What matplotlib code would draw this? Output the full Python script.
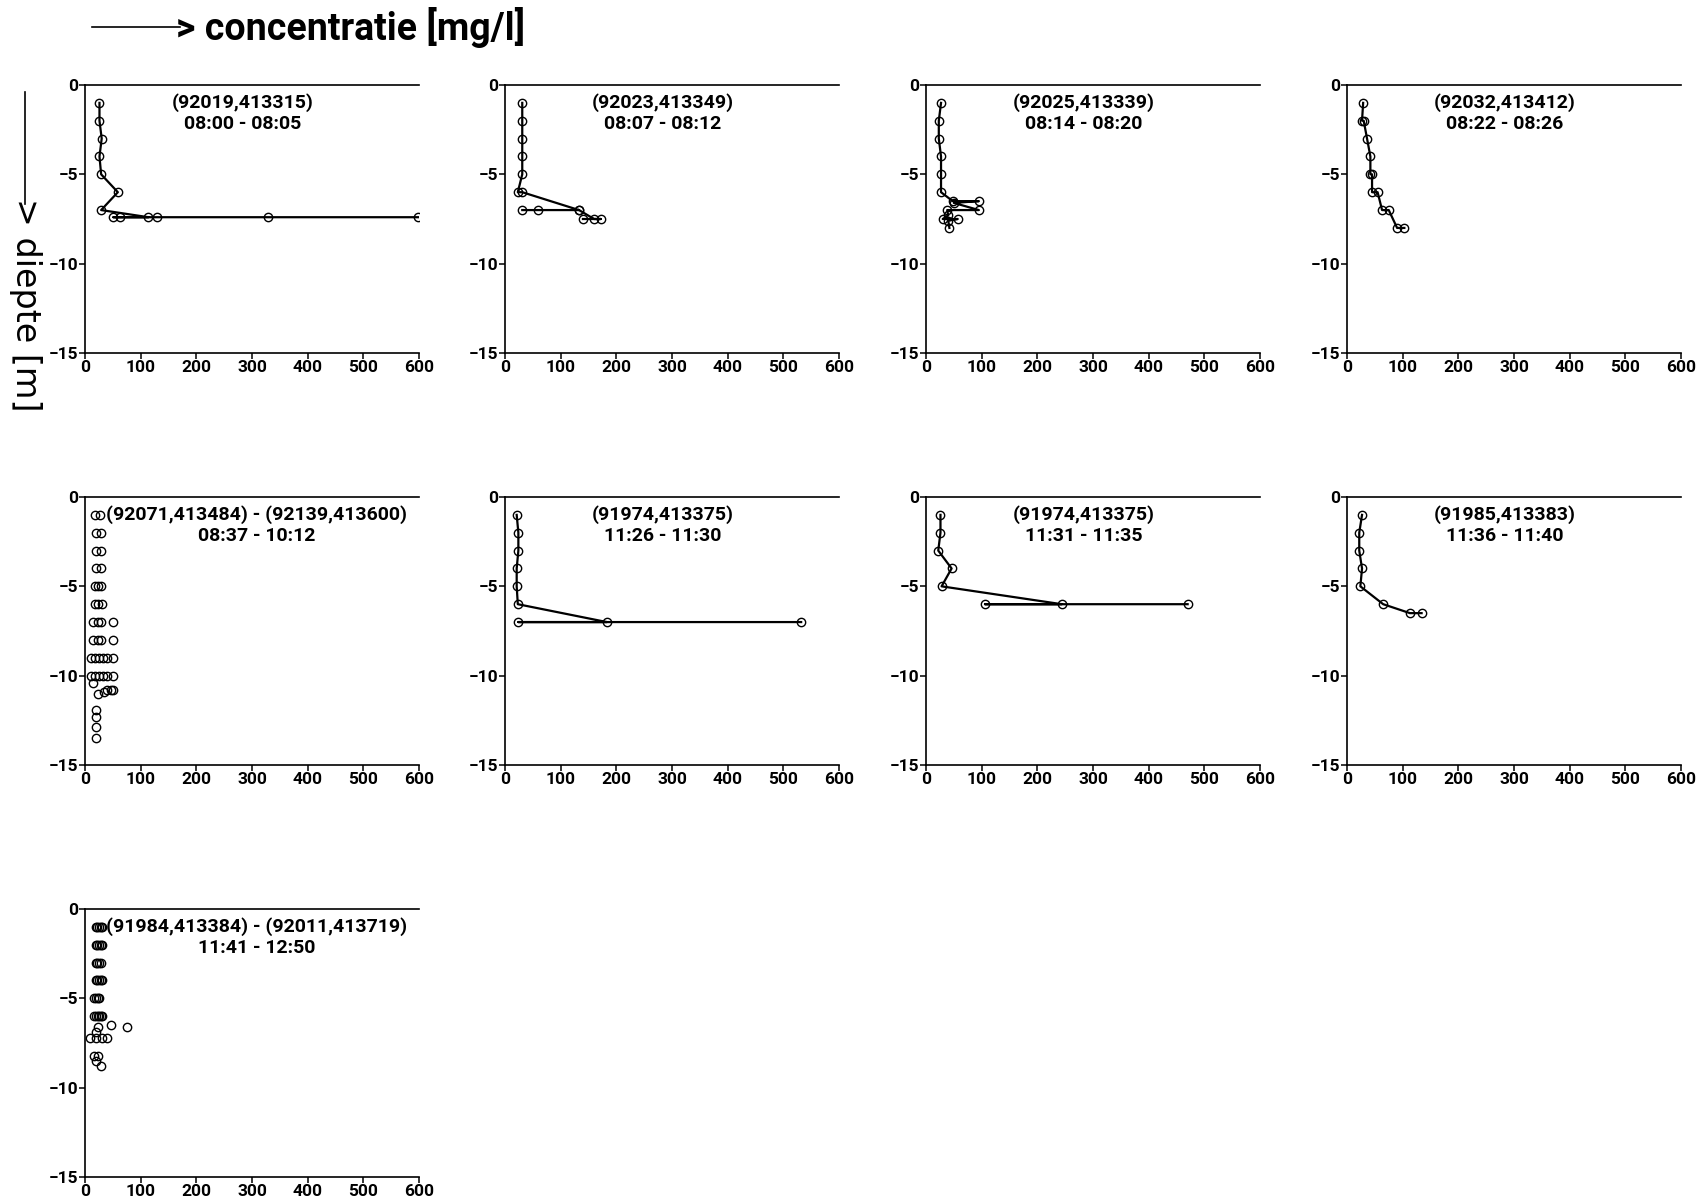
import numpy as np
import matplotlib
matplotlib.use("Agg")
import matplotlib.pyplot as plt
from matplotlib.lines import Line2D

plt.rcParams['font.family'] = ['Roboto', 'DejaVu Sans']

nan = np.nan

# meetlocaties en tijden per profiel
labels = [
    ("(92019,413315)", "08:00 - 08:05"),
    ("(92023,413349)", "08:07 - 08:12"),
    ("(92025,413339)", "08:14 - 08:20"),
    ("(92032,413412)", "08:22 - 08:26"),
    ("(92071,413484) - (92139,413600)", "08:37 - 10:12"),
    ("(91974,413375)", "11:26 - 11:30"),
    ("(91974,413375)", "11:31 - 11:35"),
    ("(91985,413383)", "11:36 - 11:40"),
    ("(91984,413384) - (92011,413719)", "11:41 - 12:50"),
]

# profielen (concentratie mg/l, diepte m)
conc_1 = [26, 26, 30, 26, 29, 59, 29, 114, 51, 62, 129, 328, 599]
depth_1 = [-1, -2, -3, -4, -5, -6, -7, -7.4, -7.4, -7.4, -7.4, -7.4, -7.4]

conc_2 = [31, 31, 31, 31, 31, 23, 31, 133, 59, 31, nan, 133, 160, 172, 140]
depth_2 = [-1, -2, -3, -4, -5, -6, -6, -7, -7, -7, nan, -7, -7.5, -7.5, -7.5]

conc_3 = [27, 23, 23, 27, 27, 27, 48, 95, 50, 95, 38, 40, 30, 57, 40, 42]
depth_3 = [-1, -2, -3, -4, -5, -6, -6.5, -6.5, -6.6, -7, -7, -7.3, -7.5, -7.5, -7.6, -8]

conc_4 = [29, 27, 30, 36, 42, 42, 45, 45, 55, 63, 75, 90, 103]
depth_4 = [-1, -2, -2, -3, -4, -5, -5, -6, -6, -7, -7, -8, -8]

conc_6 = [21, 24, 24, 21, 21, 23, 183, 24, 532]
depth_6 = [-1, -2, -3, -4, -5, -6, -7, -7, -7]

conc_7 = [26, 26, 22, 46, 28, 244, 106, 470]
depth_7 = [-1, -2, -3, -4, -5, -6, -6, -6]

conc_8 = [27, 22, 22, 27, 24, 65, 113, 134]
depth_8 = [-1, -2, -3, -4, -5, -6, -6.5, -6.5]

# losse metingen langs een raai
conc_5 = [18, 27, 20, 29, 20, 29, 20, 29, 18, 23, 29, 18, 24, 30,
          15, 23, 29, 51, 15, 23, 29, 51,
          10, 18, 26, 33, 39, 51, 10, 18, 26, 33, 39, 51,
          15, 23, 34, 39, 47, 51, 20, 20, 20, 20]
depth_5 = [-1, -1, -2, -2, -3, -3, -4, -4, -5, -5, -5, -6, -6, -6,
           -7, -7, -7, -7, -8, -8, -8, -8,
           -9, -9, -9, -9, -9, -9, -10, -10, -10, -10, -10, -10,
           -10.4, -11, -10.9, -10.8, -10.8, -10.8, -11.9, -12.3, -12.9, -13.5]

conc_9 = [19, 22, 25, 28, 30, 19, 22, 25, 28, 30, 19, 22, 25, 28,
          19, 22, 25, 28, 31, 17, 20, 23, 26, 17, 20, 23, 26, 29, 31,
          24, 46, 76, 20, 9, 20, 30, 39, 16, 24, 20, 28]
depth_9 = [-1, -1, -1, -1, -1, -2, -2, -2, -2, -2, -3, -3, -3, -3,
           -4, -4, -4, -4, -4, -5, -5, -5, -5, -6, -6, -6, -6, -6, -6,
           -6.6, -6.5, -6.6, -6.9, -7.2, -7.2, -7.2, -7.2, -8.2, -8.2, -8.5, -8.8]

profiles = [(conc_1, depth_1), (conc_2, depth_2), (conc_3, depth_3), (conc_4, depth_4),
            (conc_5, depth_5), (conc_6, depth_6), (conc_7, depth_7), (conc_8, depth_8),
            (conc_9, depth_9)]
connected = [True, True, True, True, False, True, True, True, False]

W, H = 1707, 1200
fig = plt.figure(figsize=(W / 100, H / 100), dpi=100)

col_x = [85, 505, 926, 1347]
row_y = [85, 497, 909]
aw, ah = 334, 268

for i, ((x, y), lab) in enumerate(zip(profiles, labels)):
    r, c = divmod(i, 4)
    ax = fig.add_axes([col_x[c] / W, 1 - (row_y[r] + ah) / H, aw / W, ah / H])
    ls = '-' if connected[i] else 'none'
    ax.plot(x, y, linestyle=ls, color='black', lw=1.6, marker='o', ms=6,
            mfc='none', mec='black', mew=1.0)
    ax.set_xlim(0, 600)
    ax.set_ylim(-15, 0)
    ax.set_xticks(range(0, 601, 100))
    ax.set_yticks([0, -5, -10, -15])
    ax.spines['right'].set_visible(False)
    for s in ['left', 'bottom', 'top']:
        ax.spines[s].set_linewidth(1.2)
    ax.tick_params(direction='out', length=4, width=1.1, pad=1, labelsize=12.5)
    for t in ax.get_xticklabels() + ax.get_yticklabels():
        t.set_fontweight('bold')
    xc = 308 if connected[i] is False else 283
    ax.text(xc, -1.0, lab[0], ha='center', va='center', fontsize=14, fontweight='bold')
    ax.text(xc, -2.2, lab[1], ha='center', va='center', fontsize=14, fontweight='bold')

# assen-titels met pijltjes
fig.add_artist(Line2D([92 / W, 180 / W], [1 - 27 / H, 1 - 27 / H], color='black', lw=1.2))
fig.text(176 / W, 1 - 27 / H, "> concentratie [mg/l]", ha='left', va='center',
         fontsize=27, fontweight='bold')
fig.add_artist(Line2D([25 / W, 25 / W], [1 - 92 / H, 1 - 204 / H], color='black', lw=1.2))
fig.text(25 / W, 1 - 198 / H, "> diepte [m]", ha='center', va='top', rotation=-90,
         fontsize=24, family=['DejaVu Sans'])

fig.savefig("out.png", dpi=100)
